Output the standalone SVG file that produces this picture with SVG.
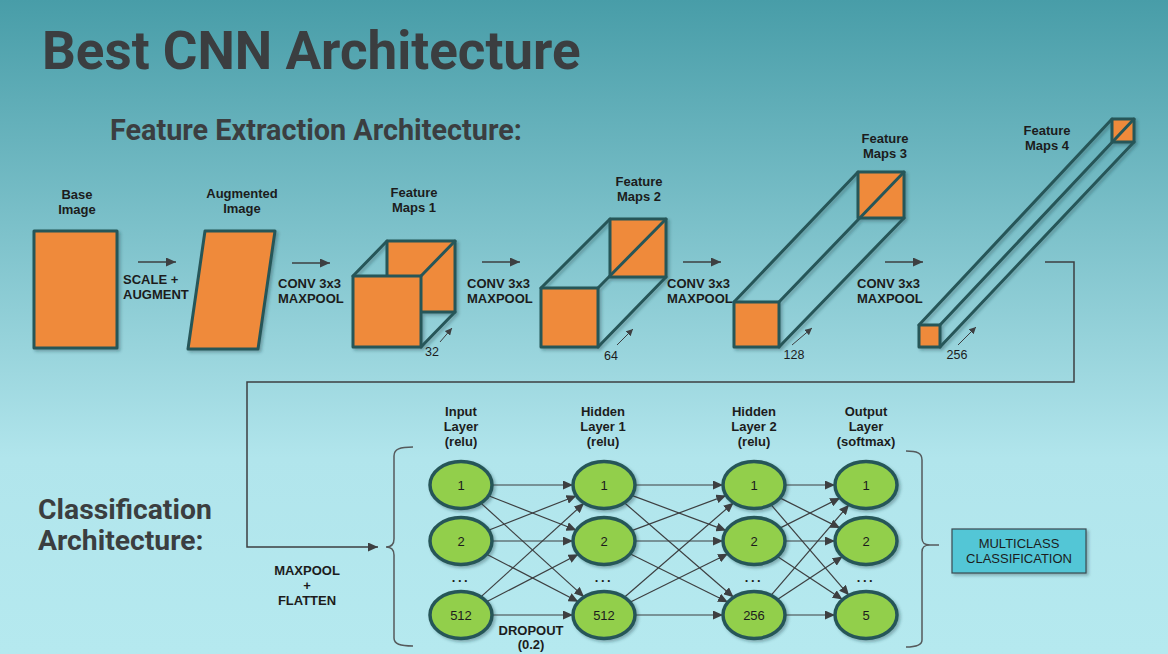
<svg xmlns="http://www.w3.org/2000/svg" width="1168" height="654" viewBox="0 0 1168 654">
<defs>
<linearGradient id="bg" x1="0" y1="0" x2="0" y2="1">
<stop offset="0" stop-color="#489da8"/>
<stop offset="0.7" stop-color="#b1e5ec"/>
<stop offset="1" stop-color="#b5e9ef"/>
</linearGradient>
<filter id="sh" x="-20%" y="-20%" width="140%" height="140%">
<feDropShadow dx="2" dy="2" stdDeviation="1.5" flood-color="#1a3a40" flood-opacity="0.35"/>
</filter>
<marker id="ah" markerUnits="userSpaceOnUse" markerWidth="11" markerHeight="9" refX="10" refY="4.5" orient="auto">
<path d="M0,0 L10,4.5 L0,9 z" fill="#3d3f41"/>
</marker>
<marker id="as" markerUnits="userSpaceOnUse" markerWidth="8" markerHeight="7" refX="7" refY="3.5" orient="auto">
<path d="M0,0 L7,3.5 L0,7 z" fill="#3d3f41"/>
</marker>
</defs>
<style>
.title{font-family:Roboto,"Liberation Sans",sans-serif;font-weight:700;fill:#3b3e40}
.lbl{font-family:"Liberation Sans",Arial,sans-serif;font-weight:700;font-size:13px;fill:#1c1c1c}
.num{font-family:"Liberation Sans",Arial,sans-serif;font-size:13px;fill:#1c1c1c;text-anchor:middle}
.dim{font-family:"Liberation Sans",Arial,sans-serif;font-size:12.5px;fill:#1c1c1c;text-anchor:middle}
.mid{text-anchor:middle}
.face{fill:#ef8a3a;stroke:#275659;stroke-width:3;stroke-linejoin:round}
.edge{fill:none;stroke:#275659;stroke-width:3;stroke-linecap:round}
.node{fill:#92cf4c;stroke:#275659;stroke-width:3.5}
.flow{stroke:#3d3f41;stroke-width:1.5;fill:none}
.nn{stroke:#3d3f41;stroke-width:1.2;fill:none}
.dimarrow{stroke:#3d3f41;stroke-width:1;fill:none}
.brace{stroke:#555a5c;stroke-width:1.5;fill:none}
.dots{font-family:"Liberation Sans",Arial,sans-serif;font-weight:700;font-size:13px;fill:#1c1c1c;text-anchor:middle;letter-spacing:2.5px}
</style>
<rect x="0" y="0" width="1168" height="654" fill="url(#bg)"/>

<text class="title" x="42" y="69" font-size="53">Best CNN Architecture</text>
<text class="title" x="110" y="140" font-size="28.8">Feature Extraction Architecture:</text>
<text class="title" x="38" y="519" font-size="28.3">Classification</text>
<text class="title" x="38" y="550" font-size="28.3">Architecture:</text>

<g id="base-image">
<text class="lbl mid" x="77" y="199">Base</text>
<text class="lbl mid" x="77" y="214">Image</text>
<rect class="face" x="34" y="231" width="83" height="117" filter="url(#sh)"/>
</g>

<g id="augmented-image">
<text class="lbl mid" x="242" y="198">Augmented</text>
<text class="lbl mid" x="242" y="213">Image</text>
<polygon class="face" points="205,231 275,231 258,349 188,349" filter="url(#sh)"/>
</g>

<g id="feature-maps-1">
<text class="lbl mid" x="414" y="197">Feature</text>
<text class="lbl mid" x="414" y="212">Maps 1</text>
<g filter="url(#sh)">
<rect class="face" x="387" y="241" width="68" height="71"/>
<line class="edge" x1="353" y1="276" x2="387" y2="241"/>
<line class="edge" x1="421" y1="276" x2="455" y2="241"/>
<line class="edge" x1="421" y1="347" x2="455" y2="312"/>
<rect class="face" x="353" y="276" width="68" height="71"/>
</g>
<text class="dim" x="432" y="356">32</text>
<line class="dimarrow" x1="440" y1="342" x2="452" y2="328" marker-end="url(#as)"/>
</g>

<g id="feature-maps-2">
<text class="lbl mid" x="639" y="186">Feature</text>
<text class="lbl mid" x="639" y="201">Maps 2</text>
<g filter="url(#sh)">
<rect class="face" x="610" y="219" width="56" height="58"/>
<line class="edge" x1="541" y1="288" x2="610" y2="219"/>
<line class="edge" x1="598" y1="288" x2="666" y2="219"/>
<line class="edge" x1="598" y1="347" x2="666" y2="277"/>
<rect class="face" x="541" y="288" width="57" height="59"/>
</g>
<text class="dim" x="611" y="360">64</text>
<line class="dimarrow" x1="617" y1="345" x2="633" y2="329" marker-end="url(#as)"/>
</g>

<g id="feature-maps-3">
<text class="lbl mid" x="885" y="143">Feature</text>
<text class="lbl mid" x="885" y="158">Maps 3</text>
<g filter="url(#sh)">
<rect class="face" x="858" y="172" width="46" height="46"/>
<line class="edge" x1="734" y1="302" x2="858" y2="172"/>
<line class="edge" x1="779" y1="302" x2="904" y2="172" stroke-width="3.6"/>
<line class="edge" x1="779" y1="347" x2="904" y2="218"/>
<rect class="face" x="734" y="302" width="45" height="45"/>
</g>
<text class="dim" x="794" y="359">128</text>
<line class="dimarrow" x1="792" y1="345" x2="812" y2="328" marker-end="url(#as)"/>
</g>

<g id="feature-maps-4">
<text class="lbl mid" x="1047" y="135">Feature</text>
<text class="lbl mid" x="1047" y="150">Maps 4</text>
<g filter="url(#sh)">
<rect class="face" x="1112" y="119" width="22" height="23"/>
<line class="edge" x1="919" y1="325" x2="1112" y2="119"/>
<line class="edge" x1="940" y1="325" x2="1134" y2="119"/>
<line class="edge" x1="940" y1="347" x2="1134" y2="142"/>
<rect class="face" x="919" y="325" width="21" height="22"/>
</g>
<text class="dim" x="957" y="359">256</text>
<line class="dimarrow" x1="958" y1="345" x2="976" y2="327" marker-end="url(#as)"/>
</g>

<g id="flow-labels">
<text class="lbl" x="123" y="284">SCALE +</text>
<text class="lbl" x="123" y="299">AUGMENT</text>
<text class="lbl" x="278" y="288">CONV 3x3</text>
<text class="lbl" x="278" y="303">MAXPOOL</text>
<text class="lbl" x="467" y="288">CONV 3x3</text>
<text class="lbl" x="467" y="303">MAXPOOL</text>
<text class="lbl" x="667" y="288">CONV 3x3</text>
<text class="lbl" x="667" y="303">MAXPOOL</text>
<text class="lbl" x="857" y="288">CONV 3x3</text>
<text class="lbl" x="857" y="303">MAXPOOL</text>
<text class="lbl mid" x="307" y="575">MAXPOOL</text>
<text class="lbl mid" x="307" y="590">+</text>
<text class="lbl mid" x="307" y="605">FLATTEN</text>
<text class="lbl mid" x="531" y="635">DROPOUT</text>
<text class="lbl mid" x="531" y="649">(0.2)</text>
</g>

<g id="connectors">
<line class="flow" x1="138" y1="262" x2="176" y2="262" marker-end="url(#ah)"/>
<line class="flow" x1="292" y1="263" x2="330" y2="263" marker-end="url(#ah)"/>
<line class="flow" x1="482" y1="262" x2="520" y2="262" marker-end="url(#ah)"/>
<line class="flow" x1="683" y1="262" x2="721" y2="262" marker-end="url(#ah)"/>
<line class="flow" x1="885" y1="262" x2="923" y2="262" marker-end="url(#ah)"/>
<path class="flow" d="M1045,262 L1074,262 L1074,382 L247,382 L247,547 L378,547" stroke-width="1.3" marker-end="url(#ah)"/>

<path class="nn" d="M492,485 L573,485" marker-end="url(#ah)"/>
<path class="nn" d="M488.5,495.8 L576.5,530.2" marker-end="url(#ah)"/>
<path class="nn" d="M480.9,503.1 L584.1,596.9" marker-end="url(#ah)"/>
<path class="nn" d="M488.5,530.2 L576.5,495.8" marker-end="url(#ah)"/>
<path class="nn" d="M492,541 L573,541" marker-end="url(#ah)"/>
<path class="nn" d="M486.6,554.2 L578.4,601.8" marker-end="url(#ah)"/>
<path class="nn" d="M480.9,596.9 L584.1,503.1" marker-end="url(#ah)"/>
<path class="nn" d="M486.6,601.8 L578.4,554.2" marker-end="url(#ah)"/>
<path class="nn" d="M492,615 L573,615" marker-end="url(#ah)"/>

<path class="nn" d="M635,485 L723,485" marker-end="url(#ah)"/>
<path class="nn" d="M631.8,495.4 L726.2,530.6" marker-end="url(#ah)"/>
<path class="nn" d="M624.4,502.7 L733.6,597.3" marker-end="url(#ah)"/>
<path class="nn" d="M631.8,530.6 L726.2,495.4" marker-end="url(#ah)"/>
<path class="nn" d="M635,541 L723,541" marker-end="url(#ah)"/>
<path class="nn" d="M630,553.8 L728,602.2" marker-end="url(#ah)"/>
<path class="nn" d="M624.4,597.3 L733.6,502.7" marker-end="url(#ah)"/>
<path class="nn" d="M630,602.2 L728,553.8" marker-end="url(#ah)"/>
<path class="nn" d="M635,615 L723,615" marker-end="url(#ah)"/>

<path class="nn" d="M785,485 L835,485" marker-end="url(#ah)"/>
<path class="nn" d="M779.9,497.9 L840.1,528.1" marker-end="url(#ah)"/>
<path class="nn" d="M771,504.7 L849,595.3" marker-end="url(#ah)"/>
<path class="nn" d="M779.9,528.1 L840.1,497.9" marker-end="url(#ah)"/>
<path class="nn" d="M785,541 L835,541" marker-end="url(#ah)"/>
<path class="nn" d="M777.4,556.4 L842.6,599.6" marker-end="url(#ah)"/>
<path class="nn" d="M771,595.3 L849,504.7" marker-end="url(#ah)"/>
<path class="nn" d="M777.4,599.6 L842.6,556.4" marker-end="url(#ah)"/>
<path class="nn" d="M785,615 L835,615" marker-end="url(#ah)"/>

<path class="brace" d="M413,447 C400,447 394,449 394,456 L394,539 C394,545 391,547 386,547 C391,547 394,549 394,555 L394,638 C394,644 400,646 413,646"/>
<path class="brace" d="M906,451 C917,451 922,453 922,460 L922,538 C922,543 924,545 930,545 L939,545 M930,545 C924,545 922,547 922,552 L922,640 C922,645 917,647 906,647"/>
</g>

<g id="input-layer">
<text class="lbl mid" x="461" y="416">Input</text>
<text class="lbl mid" x="461" y="431">Layer</text>
<text class="lbl mid" x="461" y="446">(relu)</text>
<g id="in-1"><ellipse class="node" cx="461" cy="485" rx="31" ry="23.5" filter="url(#sh)"/><text class="num" x="461" y="490">1</text></g>
<g id="in-2"><ellipse class="node" cx="461" cy="541" rx="31" ry="23.5" filter="url(#sh)"/><text class="num" x="461" y="546">2</text></g>
<text class="dots" x="461" y="582">...</text>
<g id="in-512"><ellipse class="node" cx="461" cy="615" rx="31" ry="23.5" filter="url(#sh)"/><text class="num" x="461" y="620">512</text></g>
</g>

<g id="hidden-layer-1">
<text class="lbl mid" x="603" y="416">Hidden</text>
<text class="lbl mid" x="603" y="431">Layer 1</text>
<text class="lbl mid" x="603" y="446">(relu)</text>
<g id="h1-1"><ellipse class="node" cx="604" cy="485" rx="31" ry="23.5" filter="url(#sh)"/><text class="num" x="604" y="490">1</text></g>
<g id="h1-2"><ellipse class="node" cx="604" cy="541" rx="31" ry="23.5" filter="url(#sh)"/><text class="num" x="604" y="546">2</text></g>
<text class="dots" x="604" y="582">...</text>
<g id="h1-512"><ellipse class="node" cx="604" cy="615" rx="31" ry="23.5" filter="url(#sh)"/><text class="num" x="604" y="620">512</text></g>
</g>

<g id="hidden-layer-2">
<text class="lbl mid" x="754" y="416">Hidden</text>
<text class="lbl mid" x="754" y="431">Layer 2</text>
<text class="lbl mid" x="754" y="446">(relu)</text>
<g id="h2-1"><ellipse class="node" cx="754" cy="485" rx="31" ry="23.5" filter="url(#sh)"/><text class="num" x="754" y="490">1</text></g>
<g id="h2-2"><ellipse class="node" cx="754" cy="541" rx="31" ry="23.5" filter="url(#sh)"/><text class="num" x="754" y="546">2</text></g>
<text class="dots" x="754" y="582">...</text>
<g id="h2-256"><ellipse class="node" cx="754" cy="615" rx="31" ry="23.5" filter="url(#sh)"/><text class="num" x="754" y="620">256</text></g>
</g>

<g id="output-layer">
<text class="lbl mid" x="866" y="416">Output</text>
<text class="lbl mid" x="866" y="431">Layer</text>
<text class="lbl mid" x="866" y="446">(softmax)</text>
<g id="out-1"><ellipse class="node" cx="866" cy="485" rx="31" ry="23.5" filter="url(#sh)"/><text class="num" x="866" y="490">1</text></g>
<g id="out-2"><ellipse class="node" cx="866" cy="541" rx="31" ry="23.5" filter="url(#sh)"/><text class="num" x="866" y="546">2</text></g>
<text class="dots" x="866" y="582">...</text>
<g id="out-5"><ellipse class="node" cx="866" cy="615" rx="31" ry="23.5" filter="url(#sh)"/><text class="num" x="866" y="620">5</text></g>
</g>

<g id="multiclass">
<rect x="952" y="529" width="134" height="44" fill="#52c6d6" stroke="#3a4a50" stroke-width="1.2" filter="url(#sh)"/>
<text class="num" x="1019" y="548">MULTICLASS</text>
<text class="num" x="1019" y="563">CLASSIFICATION</text>
</g>
</svg>
